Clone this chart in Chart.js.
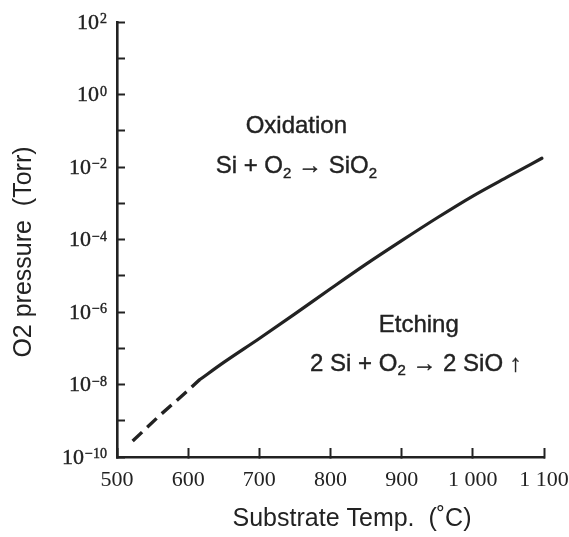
<!DOCTYPE html>
<html>
<head>
<meta charset="utf-8">
<script src="https://cdn.jsdelivr.net/npm/chart.js@4"></script>
<style>
  html, body { margin: 0; padding: 0; background: #fff; }
  #wrap { width: 569px; height: 537px; }
</style>
</head>
<body>
<div id="wrap"><canvas id="o2Chart"></canvas></div>
<script>
// Boundary between oxidation and etching (O2 pressure in Torr vs temperature in C)
const dashedTemps = [522, 560, 600, 616];
const dashedPressure = [2.75e-10, 1.4e-9, 6.9e-9, 1.35e-8];
const solidTemps = [616, 650, 700, 750, 800, 850, 900, 950, 1000, 1050, 1097];
const solidPressure = [1.35e-8, 4.07e-8, 1.86e-7, 8.9e-7, 4.37e-6, 2.09e-5, 9.3e-5, 3.98e-4, 1.58e-3, 5.5e-3, 1.74e-2];

const xTickValues = [500, 600, 700, 800, 900, 1000, 1100];
const xTickLabels = ['500', '600', '700', '800', '900', '1 000', '1 100'];
const yTickValues = [1e-10, 1e-9, 1e-8, 1e-7, 1e-6, 1e-5, 1e-4, 1e-3, 1e-2, 1e-1, 1e0, 1e1, 1e2];
// exponent shown after "10"; blank entries are unlabelled minor ticks
const yTickExponents = ['−10', '', '−8', '', '−6', '', '−4', '', '−2', '', '0', '', '2'];

// region labels, placed in data units
const notes = [
  { text: 'Oxidation', x: 752, y: 0.15 },
  { text: 'Si + O₂ → SiO₂', x: 752, y: 0.0118 },
  { text: 'Etching', x: 924, y: 5.0e-7 },
  { text: '2 Si + O₂ → 2 SiO ↑', x: 920, y: 4.2e-8 }
];

const ink = '#222';
const sans = '"Liberation Sans", Arial, sans-serif';
const serif = '"Liberation Serif", "Times New Roman", serif';
const toPoints = (xs, ys) => xs.map((x, i) => ({ x: x, y: ys[i] }));

function inkText(ctx, t, x, y) {
  ctx.fillText(t, x, y);
  ctx.strokeText(t, x, y);
}

// draws a string centred on (cx, cy); "₂" becomes a real subscript, "↑" a heavy arrow
function drawFormula(ctx, text, cx, cy, size) {
  const pieces = [];
  for (const ch of text) {
    let kind = 'plain';
    if (ch === '₂') kind = 'sub';
    else if (ch === '↑') kind = 'arrow';
    const last = pieces[pieces.length - 1];
    if (last && last.kind === kind && kind === 'plain') last.t += ch;
    else pieces.push({ kind: kind, t: ch === '₂' ? '2' : ch });
  }
  let total = 0;
  pieces.forEach(pc => {
    if (pc.kind === 'sub') { pc.font = Math.round(size * 0.62) + 'px ' + sans; pc.dy = size * 0.2; }
    else if (pc.kind === 'arrow') { pc.font = 'bold ' + size + 'px ' + sans; pc.dy = 0; }
    else { pc.font = size + 'px ' + sans; pc.dy = 0; }
    ctx.font = pc.font;
    pc.w = ctx.measureText(pc.t).width;
    total += pc.w;
  });
  let x = cx - total / 2;
  ctx.textAlign = 'left';
  ctx.textBaseline = 'alphabetic';
  pieces.forEach(pc => {
    ctx.font = pc.font;
    inkText(ctx, pc.t, x, cy + size * 0.36 + pc.dy);
    x += pc.w;
  });
}

const textLayer = {
  id: 'textLayer',
  afterDatasetsDraw(chart) {
    const { ctx, scales, chartArea } = chart;
    ctx.save();
    ctx.fillStyle = ink;
    ctx.strokeStyle = ink;
    ctx.lineWidth = 0.4;

    // power-of-ten labels on the y axis
    const yScale = scales.y;
    const right = chartArea.left - 10;
    yScale.ticks.forEach((tick, i) => {
      const exp = yTickExponents[i];
      if (!exp) return;
      const y = yScale.getPixelForValue(tick.value);
      ctx.textBaseline = 'alphabetic';
      ctx.font = '14px ' + serif;
      const ew = ctx.measureText(exp).width;
      ctx.textAlign = 'left';
      inkText(ctx, exp, right - ew, y + 1);
      ctx.font = '22px ' + serif;
      ctx.textAlign = 'right';
      ctx.textBaseline = 'middle';
      inkText(ctx, '10', right - ew - 1, y + 1);
    });

    notes.forEach(n => {
      drawFormula(ctx, n.text, scales.x.getPixelForValue(n.x), scales.y.getPixelForValue(n.y), 24);
    });

    // axis titles
    ctx.textAlign = 'center';
    ctx.textBaseline = 'middle';
    ctx.font = '25px ' + sans;
    ctx.fillText('Substrate Temp.  (˚C)', 352, chart.height - 18);
    ctx.translate(24, chartArea.top + 230);
    ctx.rotate(-Math.PI / 2);
    ctx.fillText('O2 pressure  (Torr)', 0, 0);
    ctx.restore();
  }
};

new Chart(document.getElementById('o2Chart'), {
  type: 'line',
  data: {
    datasets: [
      {
        data: toPoints(dashedTemps, dashedPressure),
        borderColor: ink,
        borderWidth: 3.4,
        borderDash: [13, 7],
        pointRadius: 0,
        tension: 0
      },
      {
        data: toPoints(solidTemps, solidPressure),
        borderColor: ink,
        borderWidth: 3.2,
        borderCapStyle: 'round',
        pointRadius: 0,
        cubicInterpolationMode: 'monotone'
      }
    ]
  },
  options: {
    responsive: true,
    maintainAspectRatio: false,
    animation: false,
    layout: { padding: { left: 0, top: 22, right: 25, bottom: 0 } },
    plugins: { legend: { display: false }, tooltip: { enabled: false } },
    scales: {
      x: {
        type: 'linear',
        min: 500,
        max: 1100,
        afterBuildTicks: scale => { scale.ticks = xTickValues.map(v => ({ value: v })); },
        afterFit: scale => {
          scale.height = 80;
          scale.paddingLeft = 0;
          scale.paddingRight = 0;
        },
        ticks: {
          color: ink,
          font: { family: serif, size: 22 },
          padding: 19,
          maxRotation: 0,
          autoSkip: false,
          callback: (value, index) => xTickLabels[index]
        },
        grid: { drawOnChartArea: false, tickLength: -9, tickColor: ink, tickWidth: 2 },
        border: { color: ink, width: 2.6 }
      },
      y: {
        type: 'logarithmic',
        min: 1e-10,
        max: 1e2,
        afterBuildTicks: scale => { scale.ticks = yTickValues.map(v => ({ value: v })); },
        afterFit: scale => { scale.width = 117; },
        ticks: { display: false },
        grid: { drawOnChartArea: false, tickLength: -8, tickColor: ink, tickWidth: 2 },
        border: { color: ink, width: 2.6 }
      }
    }
  },
  plugins: [textLayer]
});
</script>
</body>
</html>
